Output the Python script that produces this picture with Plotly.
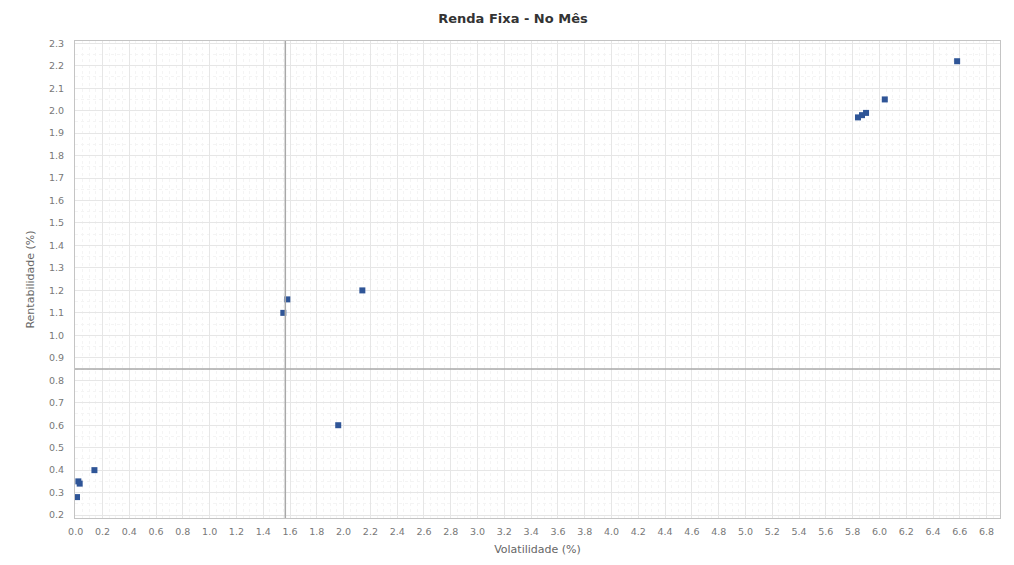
import plotly.graph_objects as go

volatilidade = [6.58, 6.04, 5.90, 5.87, 5.84, 2.14, 1.58, 1.55, 1.96, 0.14, 0.02, 0.03, 0.01]
rentabilidade = [2.22, 2.05, 1.99, 1.98, 1.97, 1.20, 1.16, 1.10, 0.60, 0.40, 0.35, 0.34, 0.28]
media_vol = 1.565
media_rent = 0.85

x_ticks = [round(i * 0.2, 1) for i in range(35)]
y_ticks = [round(0.2 + i * 0.1, 1) for i in range(22)]

fig = go.Figure()
fig.add_trace(go.Scatter(
    x=volatilidade, y=rentabilidade, mode="markers",
    marker=dict(symbol="square", size=6, color="#2f5597"),
    showlegend=False,
))
fig.add_vline(x=media_vol, line=dict(color="#a8a8a8", width=1.5))
fig.add_hline(y=media_rent, line=dict(color="#a8a8a8", width=1.5))

axis_common = dict(
    showline=True, linecolor="#c4c4c4", linewidth=1, mirror=True,
    gridcolor="#e6e6e6", gridwidth=1, zeroline=False, automargin=False,
    ticks="", tickfont=dict(family="DejaVu Sans", size=9.5, color="#777777"),
)
fig.update_xaxes(
    range=[-0.005, 6.9], tickvals=x_ticks, ticktext=[f"{v:.1f}" for v in x_ticks],
    ticklabelstandoff=5,
    title=dict(text="Volatilidade (%)", font=dict(family="DejaVu Sans", size=11, color="#666666"), standoff=8),
    minor=dict(dtick=0.05, tick0=0, showgrid=True, gridcolor="#f4f4f4", griddash="dot"),
    **axis_common,
)
fig.update_yaxes(
    range=[0.187, 2.31], tickvals=y_ticks, ticktext=[f"{v:.1f}" for v in y_ticks],
    ticklabelstandoff=8,
    title=dict(text="Rentabilidade (%)", font=dict(family="DejaVu Sans", size=11, color="#666666"), standoff=12),
    minor=dict(dtick=0.05, tick0=0, showgrid=True, gridcolor="#f4f4f4", griddash="dot"),
    **axis_common,
)
fig.update_layout(
    width=1014, height=565,
    margin=dict(l=67, r=22, t=33, b=55),
    paper_bgcolor="white", plot_bgcolor="white",
    title=dict(text="<b>Renda Fixa - No Mês</b>", x=0.498, xanchor="center", y=0.982, yanchor="middle",
               font=dict(family="DejaVu Sans", size=13, color="#333333")),
)
fig.write_html("out.html")
